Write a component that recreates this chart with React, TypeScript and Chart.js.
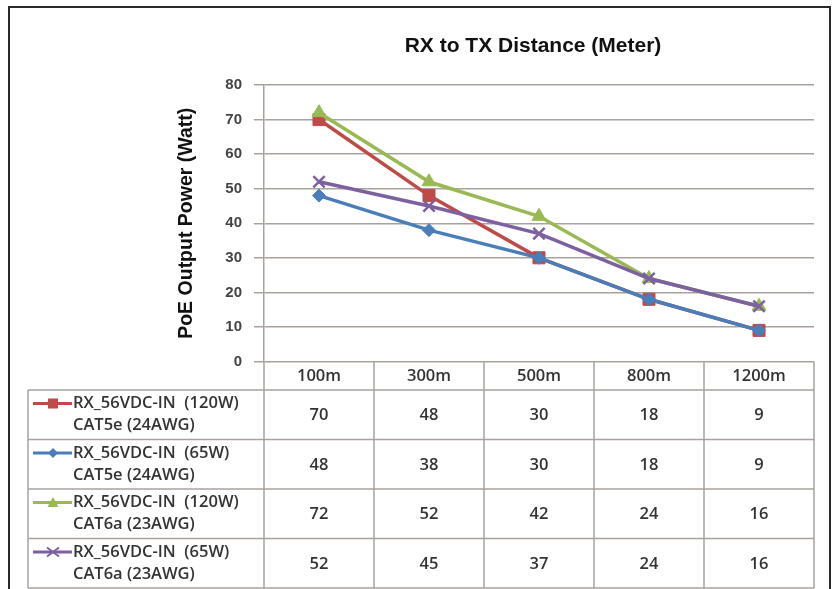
import React, { useEffect, useRef } from "react";
import { Chart, registerables } from "chart.js";

Chart.register(...registerables);

// ---- data ----
const chartTitle = "RX to TX Distance (Meter)";
const yAxisTitle = "PoE Output Power (Watt)";
const categories = ["100m", "300m", "500m", "800m", "1200m"];
const yMin = 0;
const yMax = 80;
const yStep = 10;

const seriesLine1 = [
  "RX_56VDC-IN  (120W)",
  "RX_56VDC-IN  (65W)",
  "RX_56VDC-IN  (120W)",
  "RX_56VDC-IN  (65W)",
];
const seriesLine2 = ["CAT5e (24AWG)", "CAT5e (24AWG)", "CAT6a (23AWG)", "CAT6a (23AWG)"];

const cat5e120W = [70, 48, 30, 18, 9];
const cat5e65W = [48, 38, 30, 18, 9];
const cat6a120W = [72, 52, 42, 24, 16];
const cat6a65W = [52, 45, 37, 24, 16];

const seriesValues = [cat5e120W, cat5e65W, cat6a120W, cat6a65W];

// ---- styles ----
const colors = ["#BE4B48", "#4A7EBB", "#98B954", "#7D60A0"];
const pointStyles = ["rect", "rectRot", "triangle", "crossRot"];
const pointRadii = [8.5, 6.5, 8, 8];
const gridColor = "#A8A29E";
const textColor = "#333333";
const tableFont = '600 16.5px "Open Sans", "Noto Sans", sans-serif';

function drawMarker(ctx: CanvasRenderingContext2D, style: string, x: number, y: number, color: string) {
  ctx.save();
  ctx.fillStyle = color;
  ctx.strokeStyle = color;
  ctx.lineWidth = 2;
  ctx.beginPath();
  if (style === "rect") {
    ctx.rect(x - 5, y - 5, 10, 10);
    ctx.fill();
  } else if (style === "rectRot") {
    ctx.moveTo(x - 5, y);
    ctx.lineTo(x, y - 5);
    ctx.lineTo(x + 5, y);
    ctx.lineTo(x, y + 5);
    ctx.closePath();
    ctx.fill();
  } else if (style === "triangle") {
    ctx.moveTo(x - 5.5, y + 4.5);
    ctx.lineTo(x, y - 5.5);
    ctx.lineTo(x + 5.5, y + 4.5);
    ctx.closePath();
    ctx.fill();
  } else {
    ctx.moveTo(x - 6, y - 4.5);
    ctx.lineTo(x + 6, y + 4.5);
    ctx.moveTo(x - 6, y + 4.5);
    ctx.lineTo(x + 6, y - 4.5);
    ctx.stroke();
  }
  ctx.restore();
}

const tablePlugin = {
  id: "tableAndFrame",
  afterDraw(chart: any) {
    const ctx: CanvasRenderingContext2D = chart.ctx;
    const xs = chart.scales.x;
    const area = chart.chartArea;
    const n = categories.length;
    const step = (xs.right - xs.left) / n;
    const top = area.bottom;
    const headerBottom = top + 28.5;
    const rowH = 49.5;
    const tableLeft = 28;
    const tableBottom = headerBottom + rowH * seriesValues.length;

    ctx.save();
    // title
    ctx.fillStyle = "#111";
    ctx.font = 'bold 21px "Liberation Sans", Arial, sans-serif';
    ctx.textAlign = "center";
    ctx.textBaseline = "middle";
    ctx.fillText(chartTitle, 533, 46);

    // table lines
    ctx.strokeStyle = gridColor;
    ctx.lineWidth = 1.5;
    ctx.beginPath();
    for (let k = 0; k <= n; k++) {
      const x = xs.left + k * step;
      ctx.moveTo(x, top);
      ctx.lineTo(x, tableBottom);
    }
    ctx.moveTo(tableLeft, headerBottom);
    ctx.lineTo(tableLeft, tableBottom);
    for (let r = 0; r <= seriesValues.length; r++) {
      const y = headerBottom + r * rowH;
      ctx.moveTo(tableLeft, y);
      ctx.lineTo(xs.right, y);
    }
    ctx.stroke();

    // header
    ctx.fillStyle = textColor;
    ctx.font = tableFont;
    ctx.textAlign = "center";
    ctx.textBaseline = "middle";
    categories.forEach((c, i) => {
      ctx.fillText(c, xs.left + (i + 0.5) * step, (top + headerBottom) / 2 + 1);
    });

    // rows
    seriesValues.forEach((vals, r) => {
      const y0 = headerBottom + r * rowH;
      const cy = y0 + rowH / 2;
      vals.forEach((v, i) => {
        ctx.textAlign = "center";
        ctx.fillText(String(v), xs.left + (i + 0.5) * step, cy + 1);
      });
      // legend key
      const ly = y0 + 13.5;
      ctx.save();
      ctx.strokeStyle = colors[r];
      ctx.lineWidth = 3;
      ctx.beginPath();
      ctx.moveTo(33, ly);
      ctx.lineTo(72, ly);
      ctx.stroke();
      ctx.restore();
      drawMarker(ctx, pointStyles[r], 53, ly, colors[r]);
      ctx.fillStyle = textColor;
      ctx.textAlign = "left";
      ctx.fillText(seriesLine1[r], 73, ly);
      ctx.fillText(seriesLine2[r], 73, ly + 22);
    });

    // outer frame
    ctx.strokeStyle = "#2a2a2a";
    ctx.lineWidth = 2;
    ctx.strokeRect(9, 7, 821, 620);
    ctx.restore();
  },
};

export default function App() {
  const canvasRef = useRef<HTMLCanvasElement | null>(null);

  useEffect(() => {
    const canvas = canvasRef.current;
    if (!canvas) return;
    const chart = new Chart(canvas, {
      type: "line",
      data: {
        labels: categories,
        datasets: seriesValues.map((vals, i) => ({
          label: seriesLine1[i] + " " + seriesLine2[i],
          data: vals,
          borderColor: colors[i],
          backgroundColor: colors[i],
          borderWidth: 3.5,
          tension: 0,
          pointStyle: pointStyles[i] as any,
          pointRadius: pointRadii[i],
          pointBorderWidth: pointStyles[i] === "crossRot" ? 2.5 : 1,
          pointBackgroundColor: colors[i],
          pointBorderColor: colors[i],
          order: seriesValues.length - 1 - i,
        })),
      },
      options: {
        animation: false,
        responsive: false,
        devicePixelRatio: 1,
        layout: { padding: { left: 170, right: 21, top: 85, bottom: 227.5 } },
        plugins: {
          legend: { display: false },
          title: { display: false },
          tooltip: { enabled: false },
        },
        scales: {
          x: {
            type: "category",
            display: false,
            offset: true,
          },
          y: {
            min: yMin,
            max: yMax,
            ticks: {
              stepSize: yStep,
              padding: 12,
              color: "#444",
              font: { family: '"Liberation Sans", Arial, sans-serif', size: 15, weight: "bold" },
            },
            grid: {
              color: gridColor,
              lineWidth: 1.5,
              tickLength: 10,
              drawTicks: true,
            },
            border: { display: true, color: gridColor, width: 1.5 },
            title: {
              display: true,
              text: yAxisTitle,
              color: "#111",
              padding: { top: 5, bottom: 0 },
              font: { family: '"Liberation Sans", Arial, sans-serif', size: 19.5, weight: "bold" },
            },
            afterFit: (axis: any) => {
              axis.width = 94;
            },
          },
        },
      },
      plugins: [tablePlugin],
    });
    return () => chart.destroy();
  }, []);

  return (
    <div style={{ position: "absolute", left: 0, top: 0, width: 835, height: 589, background: "#fff" }}>
      <canvas ref={canvasRef} width={835} height={589} style={{ display: "block" }} />
    </div>
  );
}
